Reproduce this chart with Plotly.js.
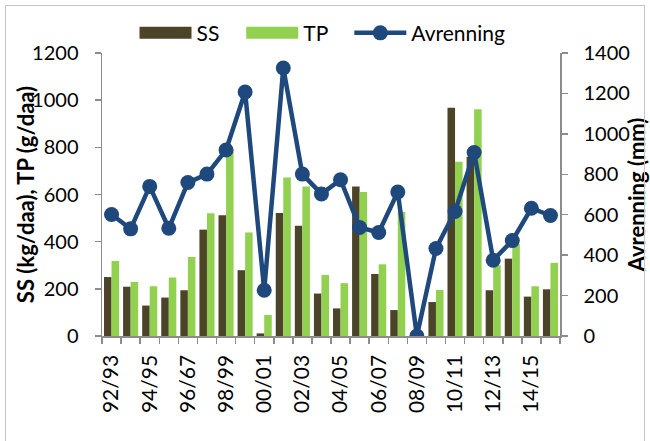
<!DOCTYPE html>
<html><head><meta charset="utf-8">
<script src="https://cdn.plot.ly/plotly-3.0.1.min.js"></script>
<style>
html,body{margin:0;padding:0;background:#fff;}
#chart{position:absolute;left:0;top:0;width:650px;height:441px;}
#frame{position:absolute;left:5px;top:5px;width:640px;height:450px;border:1px solid #c4c4c4;box-sizing:border-box;pointer-events:none;}
</style></head><body>
<div id="chart"></div><div id="frame"></div>
<script>
const categories = ["92/93","93/94","94/95","95/96","96/97","97/98","98/99","99/00","00/01","01/02","02/03","03/04","04/05","05/06","06/07","07/08","08/09","09/10","10/11","11/12","12/13","13/14","14/15","15/16"];
const tickLabels = ["92/93","","94/95","","96/67","","98/99","","00/01","","02/03","","04/05","","06/07","","08/09","","10/11","","12/13","","14/15",""];
const ss = [250,209,129,163,194,451,512,279,11,522,467,180,117,634,263,110,0,144,968,760,194,328,167,198];
const tp = [318,229,211,248,335,521,790,439,89,672,634,259,224,611,304,526,0,195,739,961,300,390,211,310];
const avrenning = [601,530,740,533,759,801,920,1207,226,1326,801,703,773,537,512,712,0,433,616,908,375,472,632,596];

const FONT = "Lato, 'Open Sans', sans-serif";
const traces = [
  {type:"bar", name:"SS", x:categories, y:ss, marker:{color:"#4b4429"}, yaxis:"y", legend:"legend"},
  {type:"bar", name:"TP", x:categories, y:tp, marker:{color:"#92d050"}, yaxis:"y", legend:"legend2"},
  {type:"scatter", mode:"lines+markers", name:"Avrenning", x:categories, y:avrenning, yaxis:"y2", legend:"legend3",
   line:{color:"#1f497d", width:4.5}, marker:{color:"#1f497d", size:15}}
];
const axisCommon = {showline:true, linecolor:"#8c8c8c", linewidth:1.5, ticks:"outside", ticklen:6, tickcolor:"#8c8c8c", tickwidth:1.5, showgrid:false, zeroline:false, tickfont:{family:FONT, size:20, color:"#000"}};
const legendCommon = {orientation:"h", xanchor:"left", y:1.07, yanchor:"middle", font:{family:FONT, size:21, color:"#000"}, itemwidth:52, bgcolor:"rgba(0,0,0,0)"};
const layout = {
  width:650, height:441,
  margin:{l:102, r:90, t:53, b:105},
  paper_bgcolor:"#fff", plot_bgcolor:"#fff",
  font:{family:FONT, color:"#000"},
  barmode:"group", bargap:0.21, bargroupgap:0,
  showlegend:true,
  legend:Object.assign({}, legendCommon, {x:0.071}),
  legend2:Object.assign({}, legendCommon, {x:0.304}),
  legend3:Object.assign({}, legendCommon, {x:0.540}),
  xaxis:Object.assign({}, axisCommon, {type:"category", tickvals:categories, ticktext:tickLabels, tickson:"boundaries", tickangle:-90, range:[-0.5,23.5], ticklabelstandoff:9, tickfont:{family:FONT, size:21, color:"#000"}}),
  yaxis:Object.assign({}, axisCommon, {range:[0,1200], dtick:200, ticklabelstandoff:12,
    title:{text:"SS (kg/daa), TP (g/daa)", font:{family:FONT, size:22, weight:"bold", color:"#000"}, standoff:0}}),
  yaxis2:Object.assign({}, axisCommon, {overlaying:"y", side:"right", range:[0,1400], dtick:200, ticklabelstandoff:12,
    title:{text:"Avrenning (mm)", font:{family:FONT, size:22, weight:"bold", color:"#000"}, standoff:0}})
};
Plotly.newPlot("chart", traces, layout, {displayModeBar:false, staticPlot:true}).then(function(gd){
  // widen the bar swatches in the legends to match the reference's long rectangles
  gd.querySelectorAll("g.traces .legendpoints .legendbar path, g.traces .legendpoints path.legendundefined").forEach(function(p){
    p.setAttribute("d", "M-26,-6H26V6H-26Z");
  });
  gd.querySelectorAll("g.traces .legendpoints path").forEach(function(p){
    const d = p.getAttribute("d") || "";
    if (/^M6,6H-6V-6H6Z$/.test(d)) p.setAttribute("d", "M-26,-6H26V6H-26Z");
  });
  // nudge the left axis title slightly toward the tick labels, as in the reference
  const t = gd.querySelector("text.ytitle");
  if (t) {
    const x = parseFloat(t.getAttribute("x")) + 9, y = parseFloat(t.getAttribute("y"));
    t.setAttribute("x", x);
    t.setAttribute("transform", "rotate(-90," + x + "," + y + ")");
  }
});
</script>
</body></html>
